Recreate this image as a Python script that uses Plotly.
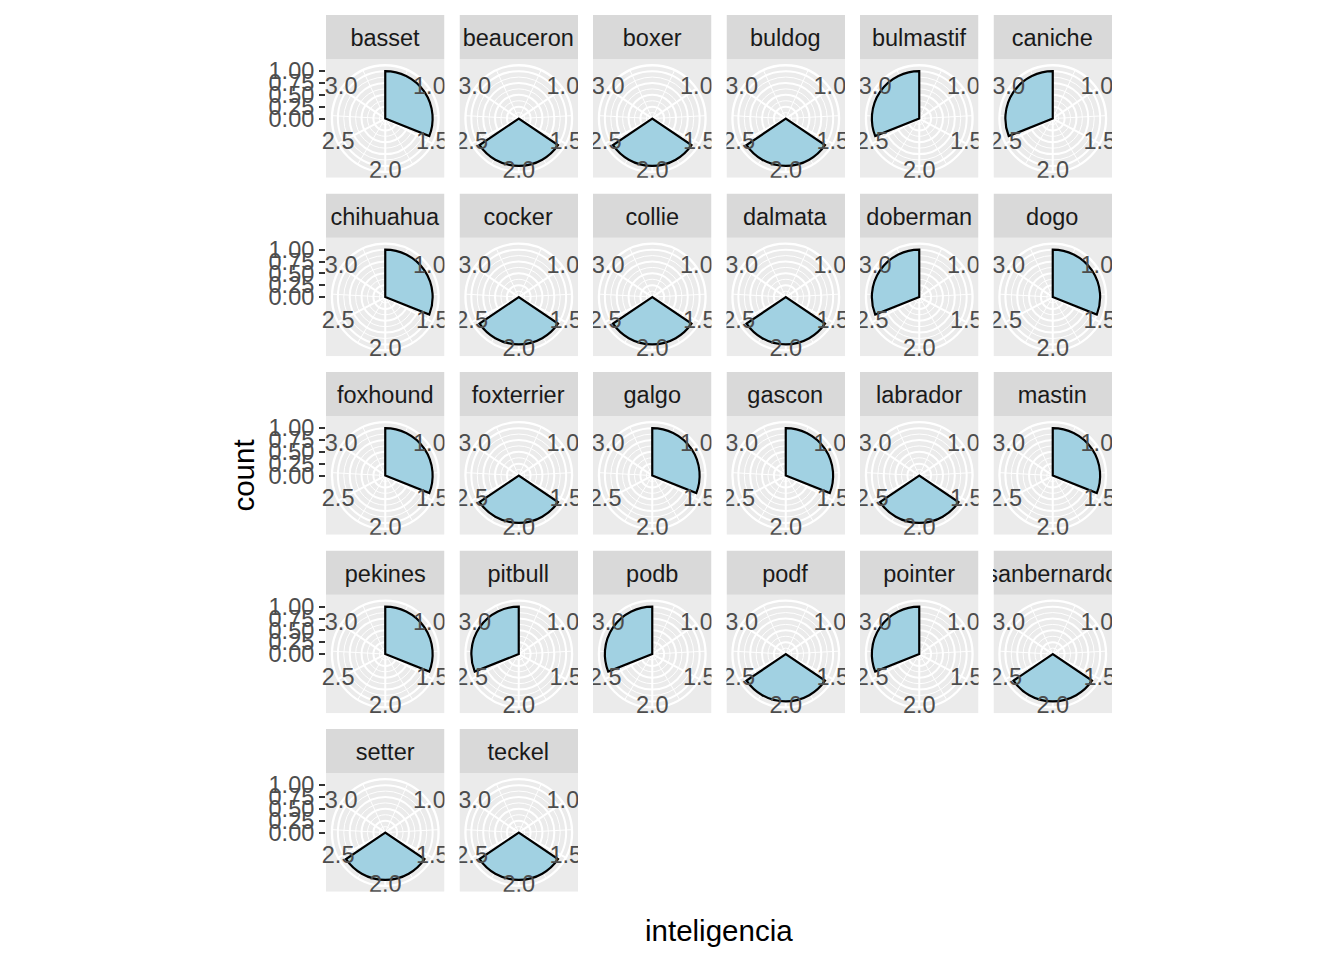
import plotly.graph_objects as go

# ---------------- data ----------------
BREEDS = ["basset", "beauceron", "boxer", "buldog", "bulmastif", "caniche",
          "chihuahua", "cocker", "collie", "dalmata", "doberman", "dogo",
          "foxhound", "foxterrier", "galgo", "gascon", "labrador", "mastin",
          "pekines", "pitbull", "podb", "podf", "pointer", "sanbernardo",
          "setter", "teckel"]
INTELIGENCIA = [1, 2, 2, 2, 3, 3,
                1, 2, 2, 2, 3, 1,
                1, 2, 1, 1, 2, 1,
                1, 3, 3, 2, 3, 2,
                2, 2]
COUNTS = [1] * len(BREEDS)

THETA_BREAKS = [1.0, 1.5, 2.0, 2.5, 3.0]
THETA_LABELS = ["1.0", "1.5", "2.0", "2.5", "3.0"]
THETA_MINOR = [0.75, 1.25, 1.75, 2.25, 2.75, 3.25]
R_BREAKS = [0.0, 0.25, 0.5, 0.75, 1.0]
R_LABELS = ["0.00", "0.25", "0.50", "0.75", "1.00"]
R_MINOR = [0.125, 0.375, 0.625, 0.875]
BAR_WIDTH = 0.9

# ---------------- style / layout constants ----------------
W, H = 1344, 960
NCOL = 6
P = 118.5           # panel size (px)
STRIP_H = 44.3
PANEL_LEFT0 = 326.0
STRIP_TOP0 = 15.0
COL_STEP = 133.5
ROW_STEP = 178.5
FONT = "Liberation Sans"
TXT = 23.5
TITLE = 29.5
FILL = "#A1D1E2"
PANEL_BG = "#EBEBEB"
STRIP_BG = "#D9D9D9"

# theta scale (continuous, like ggplot coord_polar: no expansion)
T_LO = min(INTELIGENCIA) - BAR_WIDTH / 2
T_HI = max(INTELIGENCIA) + BAR_WIDTH / 2
R_MAX = max(COUNTS) * 0.45 / 0.4   # outer circle of ggplot polar panel


def deg(v):
    return (v - T_LO) / (T_HI - T_LO) * 360.0


def fx(px):
    return px / W


def fy(py):
    return 1 - py / H


fig = go.Figure()
shapes = []
annotations = []
layout = {}

nrows = (len(BREEDS) + NCOL - 1) // NCOL

for k, (breed, val, cnt) in enumerate(zip(BREEDS, INTELIGENCIA, COUNTS)):
    row, col = divmod(k, NCOL)
    left = PANEL_LEFT0 + col * COL_STEP
    strip_top = STRIP_TOP0 + row * ROW_STEP
    ptop = strip_top + STRIP_H
    pbot = ptop + P
    cx = left + P / 2
    cy = ptop + P / 2
    rad = 0.45 * P

    # panel background and strip
    shapes.append(dict(type="rect", xref="paper", yref="paper", layer="below",
                       x0=fx(left), x1=fx(left + P), y0=fy(pbot), y1=fy(ptop),
                       fillcolor=PANEL_BG, line=dict(width=0)))
    shapes.append(dict(type="rect", xref="paper", yref="paper", layer="below",
                       x0=fx(left), x1=fx(left + P), y0=fy(ptop), y1=fy(strip_top),
                       fillcolor=STRIP_BG, line=dict(width=0)))
    annotations.append(dict(text=breed, x=fx(cx), y=fy(strip_top + STRIP_H / 2 + 1),
                            xref="paper", yref="paper", showarrow=False,
                            xanchor="center", yanchor="middle", width=P,
                            font=dict(family=FONT, size=TXT, color="#1A1A1A")))

    minor_id = "polar" if k == 0 else f"polar{2 * k + 1}"
    major_id = f"polar{2 * k + 2}"
    dom = dict(x=[fx(cx - rad), fx(cx + rad)], y=[fy(cy + rad), fy(cy - rad)])

    layout[minor_id] = dict(
        domain=dom, bgcolor="rgba(0,0,0,0)",
        angularaxis=dict(type="linear", thetaunit="degrees", rotation=90,
                         direction="clockwise", tickvals=[deg(t) for t in THETA_MINOR],
                         showticklabels=False, ticks="", showline=False,
                         showgrid=True, gridcolor="white", gridwidth=1.1),
        radialaxis=dict(range=[0, R_MAX], tickvals=R_MINOR, showticklabels=False,
                        ticks="", showline=False, showgrid=True,
                        gridcolor="white", gridwidth=1.1))
    layout[major_id] = dict(
        domain=dom, bgcolor="rgba(0,0,0,0)",
        angularaxis=dict(type="linear", thetaunit="degrees", rotation=90,
                         direction="clockwise", tickvals=[deg(t) for t in THETA_BREAKS],
                         showticklabels=False, ticks="", showline=True,
                         linecolor="white", linewidth=2.3, layer="below traces",
                         showgrid=True, gridcolor="white", gridwidth=2.3),
        radialaxis=dict(range=[0, R_MAX], tickvals=R_BREAKS, showticklabels=False,
                        ticks="", showline=False, showgrid=True, layer="below traces",
                        gridcolor="white", gridwidth=2.3))

    fig.add_trace(go.Scatterpolar(r=[], theta=[], subplot=minor_id,
                                  showlegend=False, hoverinfo="skip"))
    fig.add_trace(go.Barpolar(
        r=[cnt], theta=[deg(val)], width=[BAR_WIDTH / (T_HI - T_LO) * 360],
        subplot=major_id, showlegend=False,
        marker=dict(color=FILL, line=dict(color="black", width=2.2))))
    fig.add_trace(go.Scatterpolar(
        r=[R_MAX] * len(THETA_BREAKS), theta=[deg(t) for t in THETA_BREAKS],
        text=THETA_LABELS, mode="text", textposition="middle center",
        cliponaxis=False, subplot=major_id, showlegend=False, hoverinfo="skip",
        textfont=dict(family=FONT, size=TXT, color="#4D4D4D")))

# clipping: white bands in the gaps between panels (drawn above traces)
last_row_bottom = STRIP_TOP0 + (nrows - 1) * ROW_STEP + STRIP_H + P
for c in range(NCOL):
    x0 = PANEL_LEFT0 + c * COL_STEP + P
    x1 = PANEL_LEFT0 + (c + 1) * COL_STEP if c < NCOL - 1 else W
    shapes.append(dict(type="rect", xref="paper", yref="paper", layer="above",
                       x0=fx(x0), x1=fx(x1), y0=fy(last_row_bottom + 20), y1=fy(0),
                       fillcolor="white", line=dict(width=0)))
for r in range(nrows):
    y0 = STRIP_TOP0 + r * ROW_STEP + STRIP_H + P
    y1 = STRIP_TOP0 + (r + 1) * ROW_STEP
    shapes.append(dict(type="rect", xref="paper", yref="paper", layer="above",
                       x0=fx(PANEL_LEFT0), x1=fx(W), y0=fy(y1), y1=fy(y0),
                       fillcolor="white", line=dict(width=0)))

# radial (count) axis on the first column, one cartesian axis per row
for r in range(nrows):
    i = r + 1
    sfx = "" if i == 1 else str(i)
    ptop = STRIP_TOP0 + r * ROW_STEP + STRIP_H
    pbot = ptop + P
    layout[f"xaxis{sfx}"] = dict(domain=[fx(PANEL_LEFT0), fx(PANEL_LEFT0 + P)],
                                 anchor=f"y{sfx}", visible=False, range=[-1.25, 1.25])
    layout[f"yaxis{sfx}"] = dict(domain=[fy(pbot), fy(ptop)], anchor=f"x{sfx}",
                                 range=[-1.25, 1.25], tickvals=R_BREAKS, ticktext=R_LABELS,
                                 ticks="outside", ticklen=6, tickwidth=2,
                                 tickcolor="#333333", showgrid=False, zeroline=False,
                                 showline=False,
                                 tickfont=dict(family=FONT, size=TXT, color="#4D4D4D"))
    fig.add_trace(go.Scatter(x=[None], y=[None], xaxis=f"x{sfx}", yaxis=f"y{sfx}",
                             showlegend=False, hoverinfo="skip"))

# axis titles
first_ptop = STRIP_TOP0 + STRIP_H
annotations.append(dict(text="count", x=fx(244), y=fy((first_ptop + last_row_bottom) / 2),
                        xref="paper", yref="paper", showarrow=False, textangle=-90,
                        xanchor="center", yanchor="middle",
                        font=dict(family=FONT, size=TITLE, color="black")))
panels_right = PANEL_LEFT0 + (NCOL - 1) * COL_STEP + P
annotations.append(dict(text="inteligencia", x=fx((PANEL_LEFT0 + panels_right) / 2),
                        y=fy(930), xref="paper", yref="paper", showarrow=False,
                        xanchor="center", yanchor="middle",
                        font=dict(family=FONT, size=TITLE, color="black")))

fig.update_layout(width=W, height=H, margin=dict(l=0, r=0, t=0, b=0),
                  paper_bgcolor="white", plot_bgcolor="rgba(0,0,0,0)",
                  showlegend=False, shapes=shapes, annotations=annotations,
                  font=dict(family=FONT), **layout)

fig.write_html("out.html")
